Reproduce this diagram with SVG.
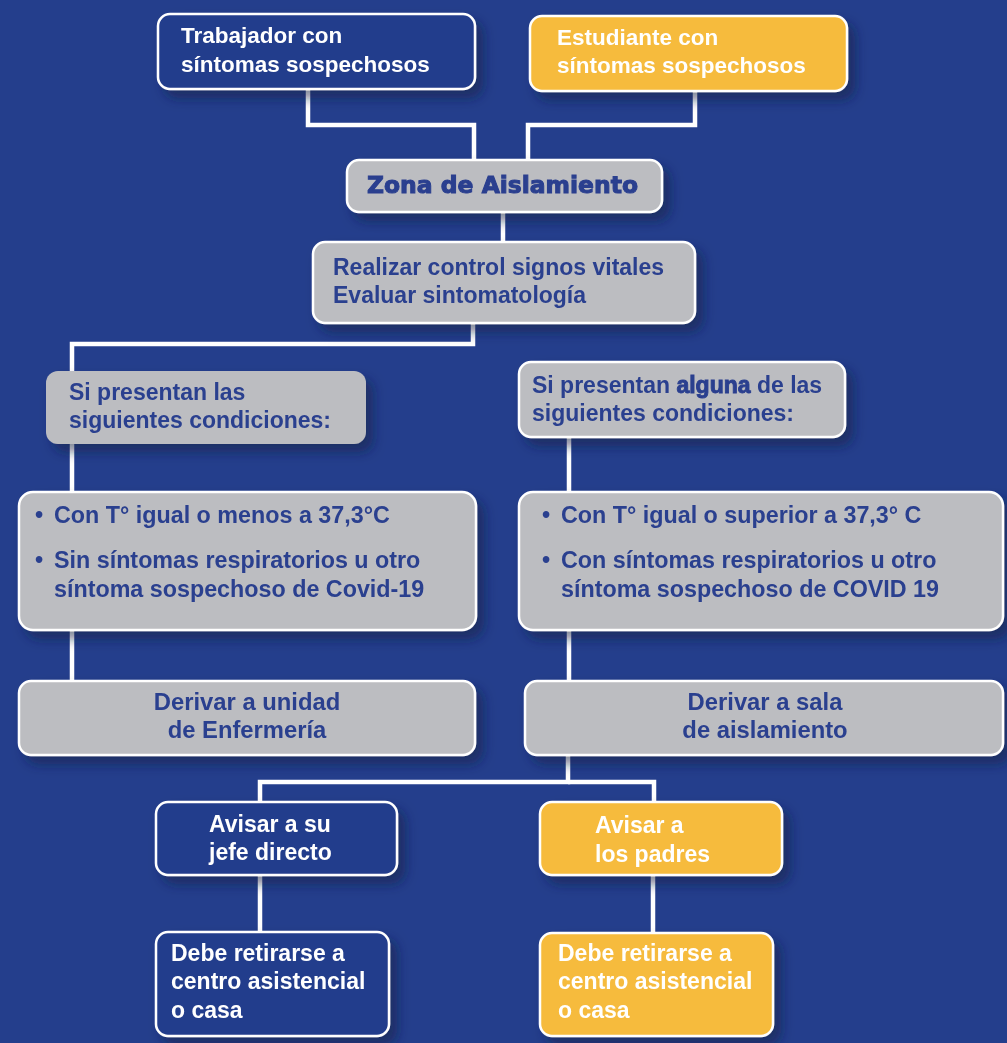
<svg xmlns="http://www.w3.org/2000/svg" width="1007" height="1043" viewBox="0 0 1007 1043">
<defs>
<filter id="sh" x="-10%" y="-20%" width="130%" height="160%">
<feDropShadow dx="7" dy="8" stdDeviation="6" flood-color="#0d1a45" flood-opacity="0.55"/>
</filter>
<style>
.navy{fill:#243e8c;stroke:#ffffff;stroke-width:2.5}
.yel{fill:#f6bb3d;stroke:#ffffff;stroke-width:2.5}
.gray{fill:#bcbdc1;stroke:#ffffff;stroke-width:2.5}
.grayn{fill:#bcbdc1;stroke:none}
text{font-family:"Liberation Sans",Arial,sans-serif;font-weight:bold;font-size:23px}
.top{font-size:22.5px}
.cond{font-size:23.3px}
.der{font-size:23.8px}
.w{fill:#ffffff}
.b{fill:#2a3f8f}
.line{fill:none;stroke:#ffffff;stroke-width:4.5}
</style>
</defs>
<rect x="0" y="0" width="1007" height="1043" fill="#243e8c"/>
<g id="connectors">
<path class="line" d="M308,89 V125 H474 V160"/>
<path class="line" d="M695,91 V125 H528 V160"/>
<path class="line" d="M503,212 V242"/>
<path class="line" d="M473,323 V344 H72 V681"/>
<path class="line" d="M569,437 V681"/>
<path class="line" d="M568,755 V782 H260 V802"/>
<path class="line" d="M568,782 H654 V802"/>
<path class="line" d="M260,875 V932"/>
<path class="line" d="M653,875 V933"/>
</g>
<g id="n-trabajador" filter="url(#sh)">
<rect class="navy" x="158" y="14" width="317" height="75" rx="12"/>
<text class="w top" x="181" y="43">Trabajador con</text>
<text class="w top" x="181" y="72">síntomas sospechosos</text>
</g>
<g id="n-estudiante" filter="url(#sh)">
<rect class="yel" x="530" y="16" width="317" height="75" rx="12"/>
<text class="w top" x="557" y="45">Estudiante con</text>
<text class="w top" x="557" y="73">síntomas sospechosos</text>
</g>
<g id="n-zona" filter="url(#sh)">
<rect class="gray" x="347" y="160" width="315" height="52" rx="12"/>
<text class="b" x="367" y="193" style="font-family:'DejaVu Sans',sans-serif;font-size:23px;stroke:#2a3f8f;stroke-width:1" textLength="271" lengthAdjust="spacingAndGlyphs">Zona de Aislamiento</text>
</g>
<g id="n-realizar" filter="url(#sh)">
<rect class="gray" x="313" y="242" width="382" height="81" rx="12"/>
<text class="b" x="333" y="275">Realizar control signos vitales</text>
<text class="b" x="333" y="303">Evaluar sintomatología</text>
</g>
<g id="n-si-las" filter="url(#sh)">
<rect class="grayn" x="46" y="371" width="320" height="73" rx="12"/>
<text class="b" x="69" y="400">Si presentan las</text>
<text class="b" x="69" y="428">siguientes condiciones:</text>
</g>
<g id="n-si-alguna" filter="url(#sh)">
<rect class="gray" x="519" y="362" width="326" height="75" rx="12"/>
<text class="b" x="532" y="393">Si presentan <tspan style="stroke:#2a3f8f;stroke-width:0.9">alguna</tspan> de las</text>
<text class="b" x="532" y="421">siguientes condiciones:</text>
</g>
<g id="n-cond-izq" filter="url(#sh)">
<rect class="gray" x="19" y="492" width="457" height="138" rx="14"/>
<text class="b cond" x="35" y="523">•</text>
<text class="b cond" x="54" y="523">Con T° igual o menos a 37,3°C</text>
<text class="b cond" x="35" y="568">•</text>
<text class="b cond" x="54" y="568">Sin síntomas respiratorios u otro</text>
<text class="b cond" x="54" y="597">síntoma sospechoso de Covid-19</text>
</g>
<g id="n-cond-der" filter="url(#sh)">
<rect class="gray" x="519" y="492" width="484" height="138" rx="14"/>
<text class="b cond" x="542" y="523">•</text>
<text class="b cond" x="561" y="523">Con T° igual o superior a 37,3° C</text>
<text class="b cond" x="542" y="568">•</text>
<text class="b cond" x="561" y="568">Con síntomas respiratorios u otro</text>
<text class="b cond" x="561" y="597">síntoma sospechoso de COVID 19</text>
</g>
<g id="n-derivar-enf" filter="url(#sh)">
<rect class="gray" x="19" y="681" width="456" height="74" rx="12"/>
<text class="b der" x="247" y="710" text-anchor="middle">Derivar a unidad</text>
<text class="b der" x="247" y="738" text-anchor="middle">de Enfermería</text>
</g>
<g id="n-derivar-sala" filter="url(#sh)">
<rect class="gray" x="525" y="681" width="478" height="74" rx="12"/>
<text class="b der" x="765" y="710" text-anchor="middle">Derivar a sala</text>
<text class="b der" x="765" y="738" text-anchor="middle">de aislamiento</text>
</g>
<g id="n-avisar-jefe" filter="url(#sh)">
<rect class="navy" x="156" y="802" width="241" height="73" rx="12"/>
<text class="w" x="209" y="832">Avisar a su</text>
<text class="w" x="209" y="860">jefe directo</text>
</g>
<g id="n-avisar-padres" filter="url(#sh)">
<rect class="yel" x="540" y="802" width="242" height="73" rx="12"/>
<text class="w" x="595" y="833">Avisar a</text>
<text class="w" x="595" y="862">los padres</text>
</g>
<g id="n-retirarse-trab" filter="url(#sh)">
<rect class="navy" x="156" y="932" width="233" height="104" rx="12"/>
<text class="w" x="171" y="961">Debe retirarse a</text>
<text class="w" x="171" y="989">centro asistencial</text>
<text class="w" x="171" y="1018">o casa</text>
</g>
<g id="n-retirarse-est" filter="url(#sh)">
<rect class="yel" x="540" y="933" width="233" height="103" rx="12"/>
<text class="w" x="558" y="961">Debe retirarse a</text>
<text class="w" x="558" y="989">centro asistencial</text>
<text class="w" x="558" y="1018">o casa</text>
</g>
</svg>
